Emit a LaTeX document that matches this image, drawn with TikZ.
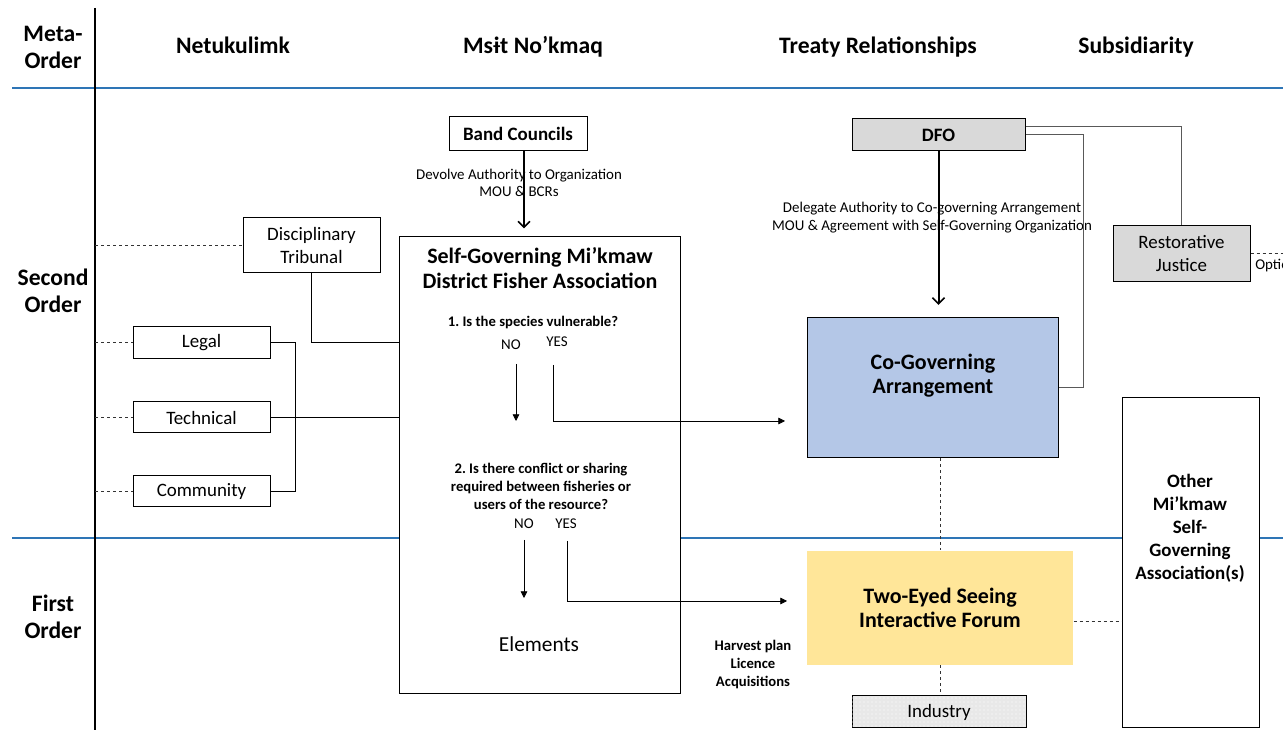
\documentclass[tikz,border=0pt]{standalone}
\usepackage{fontspec}
\setmainfont{Carlito}
\frenchspacing
\usetikzlibrary{arrows.meta,patterns}
\definecolor{axisblue}{HTML}{2E75B6}
\definecolor{boxgray}{HTML}{D9D9D9}
\definecolor{cogovblue}{HTML}{B4C7E7}
\definecolor{forumyellow}{HTML}{FFE699}
\begin{document}
\begin{tikzpicture}[x=0.75pt,y=-0.75pt,
  sz/.style 2 args={minimum width=#1*0.75pt, minimum height=#2*0.75pt},
  box/.style={draw=black, line width=0.75pt, fill=white, inner sep=0pt, align=center, font=\fontsize{14.2}{17.25}\selectfont},
  boldbox/.style={box, font=\fontsize{14.2}{17.25}\bfseries\selectfont},
  header/.style={inner sep=0pt, align=center, font=\fontsize{17.7}{20.25}\bfseries\selectfont},
  bigtitle/.style={inner sep=0pt, align=center, font=\fontsize{16.5}{18.5}\bfseries\selectfont},
  small/.style={inner sep=0pt, align=center, font=\fontsize{11.2}{13.2}\selectfont},
  smallbold/.style={inner sep=0pt, align=center, font=\fontsize{11}{13.5}\bfseries\selectfont},
  conn/.style={line width=0.75pt, draw=black},
  grayconn/.style={line width=0.75pt, draw=black!65},
  dashconn/.style={line width=0.75pt, draw=black!80, dash pattern=on 2.25pt off 2.25pt},
  bigarrow/.style={line width=1.5pt, -{Straight Barb[length=4.5pt,width=9pt,line width=1.2pt]}},
  tri/.style={line width=0.6pt, -{Triangle[length=5pt,width=5pt]}}
]
\useasboundingbox (0,0) rectangle (1283,730);
\clip (0,0) rectangle (1283,730);

% axes
\coordinate (axtop) at (95,8);
\coordinate (axbot) at (95,730);
\coordinate (bl1a) at (12,88);
\coordinate (bl1b) at (1283,88);
\coordinate (bl2a) at (12,538);
\coordinate (bl2b) at (1283,538);
\draw[axisblue, line width=0.9pt] (bl1a) -- (bl1b);
\draw[axisblue, line width=0.9pt] (bl2a) -- (bl2b);
\draw[black, line width=1.1pt] (axtop) -- (axbot);

% headers
\node[header] (hmeta) at (53,47) {Meta-\\Order};
\node[header] (hnet) at (233,45) {Netukulimk};
\node[header] (hmsit) at (533,47) {Msɨt No’kmaq};
\node[header] (htreaty) at (878,47) {Treaty Relationships};
\node[header] (hsub) at (1136,47) {Subsidiarity};
\node[header] (hsecond) at (53,291) {Second\\Order};
\node[header] (hfirst) at (53,617) {First\\Order};

% boxes
\node[boldbox, sz={138}{34}] (band) at (518,134) {Band Councils};
\node[box, sz={281}{457}] (sgov) at (539.5,465.5) {};
\node[box, sz={137}{55}] (disc) at (311.5,245.5) {Disciplinary\\Tribunal};
\node[box, sz={137}{32}] (legal) at (201.5,343) {Legal};
\node[box, sz={137}{31}] (technical) at (201.5,417.5) {Technical};
\node[box, sz={137}{31}] (community) at (201.5,491.5) {Community};
\node[boldbox, fill=boxgray, sz={173}{32}] (dfo) at (938.5,135) {DFO};
\node[box, fill=boxgray, sz={137}{56}] (rj) at (1181.5,254) {Restorative\\Justice};
\node[box, fill=cogovblue, sz={251}{140}] (cogov) at (932.5,388) {};
\node[bigtitle, font=\fontsize{16.5}{18}\bfseries\selectfont] (cogovt) at (933,376) {Co-Governing\\Arrangement};
\node[box, draw=none, fill=forumyellow, sz={266}{114}, font=\fontsize{16.5}{18}\bfseries\selectfont] (tes) at (940,608) {Two-Eyed Seeing\\Interactive Forum};
\node[box, fill=black!9, sz={174}{32}] (industry) at (939,712) {};
\fill[pattern=dots, pattern color=white] (industry.south west) rectangle (industry.north east);
\node[inner sep=0pt, font=\fontsize{14.2}{17}\selectfont] (industryt) at (939,712) {Industry};
\node[box, sz={137}{330}] (other) at (1190.5,563) {};
\node[inner sep=0pt, align=center, font=\fontsize{14.2}{17.25}\bfseries\selectfont] (othert) at (1190,528) {Other\\Mi’kmaw\\Self-\\Governing\\Association(s)};

% texts inside self-governing box
\node[bigtitle] (sgovt) at (540,268) {Self-Governing Mi’kmaw\\District Fisher Association};
\node[smallbold] (q1) at (533,323) {1. Is the species vulnerable?};
\node[small] (no1) at (511,345) {NO};
\node[small] (yes1) at (557,342) {YES};
\node[smallbold] (q2) at (541,486) {2. Is there conflict or sharing\\required between fisheries or\\users of the resource?};
\node[small] (no2) at (524,524) {NO};
\node[small] (yes2) at (566,524) {YES};
\node[inner sep=0pt, font=\fontsize{16}{18}\selectfont] (elements) at (539,644) {Elements};

% labels
\node[small] (devolve) at (519,183) {Devolve Authority to Organization\\MOU \& BCRs};
\node[small, font=\fontsize{11.2}{13.5}\selectfont] (delegate) at (932,218) {Delegate Authority to Co-governing Arrangement\\MOU \& Agreement with Self-Governing Organization};
\node[smallbold] (harvest) at (753,665) {Harvest plan\\Licence\\Acquisitions};
\node[small, anchor=west] (optional) at (1255,266) {Optional};

% connectors
\draw[conn, bigarrow, shorten >=6pt] ([xshift=4.5pt]band.south) -- ([xshift=4.5pt]band.south |- sgov.north);
\draw[conn, bigarrow, shorten >=9.5pt] (dfo.south) -- (dfo.south |- cogov.north);
\draw[grayconn] ([yshift=6.5pt]dfo.east) -| (rj.north);
\draw[grayconn] (dfo.east) -- ++(58,0) |- (cogov.east);

\draw[dashconn] (axtop |- disc.west) -- (disc.west);
\draw[dashconn] (axtop |- legal.west) -- (legal.west);
\draw[dashconn] (axtop |- technical.west) -- (technical.west);
\draw[dashconn] (axtop |- community.west) -- (community.west);
\draw[conn] (disc.south) |- (sgov.west |- legal.east);
\draw[conn] (legal.east) -- ++(25,0) |- (community.east);
\draw[conn] (technical.east) -- (sgov.west |- technical.east);

% decision arrows
\coordinate (n1a) at (516,364);
\coordinate (n1b) at (516,421);
\coordinate (y1a) at (553,365);
\coordinate (y1b) at (785,421);
\coordinate (n2a) at (524,540);
\coordinate (n2b) at (524,598);
\coordinate (y2a) at (567,541);
\coordinate (y2b) at (787,601);
\draw[conn, tri, line width=0.6pt] (n1a) -- (n1b);
\draw[conn, tri, line width=0.6pt] (y1a) |- (y1b);
\draw[conn, tri, line width=0.6pt] (n2a) -- (n2b);
\draw[conn, tri, line width=0.6pt] (y2a) |- (y2b);

% dashed links
\draw[dashconn] (tes.north |- cogov.south) -- (tes.north);
\draw[dashconn] ([yshift=-10.5pt]tes.east) -- ([yshift=-10.5pt]tes.east -| other.west);
\draw[dashconn] (tes.south) -- (tes.south |- industry.north);
\coordinate (rjend) at (1283,254);
\draw[dashconn] (rj.east) -- (rjend);
\end{tikzpicture}
\end{document}
